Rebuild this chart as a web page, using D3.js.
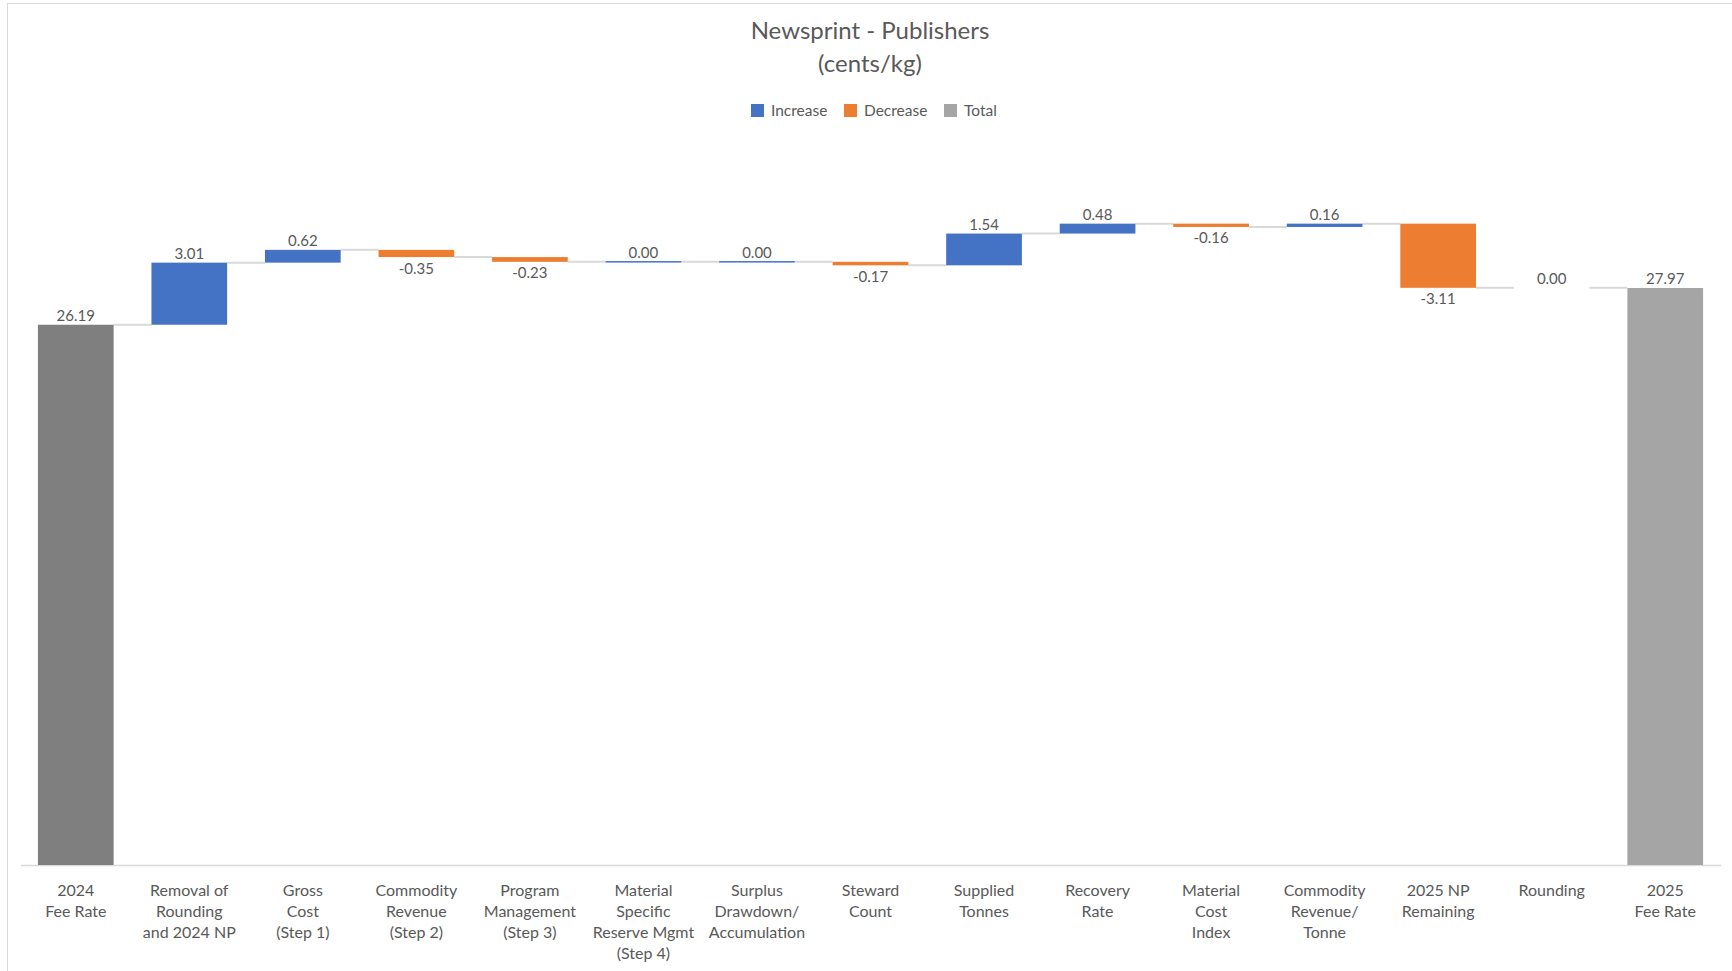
<!DOCTYPE html>
<html>
<head>
<meta charset="utf-8">
<script src="https://cdn.jsdelivr.net/npm/d3@7"></script>
<style>
  body { margin: 0; background: #fff; }
  text { font-family: Lato, "Open Sans", sans-serif; fill: #595959; }
</style>
</head>
<body>
<div id="chart"></div>
<script>
// categories, with line breaks as shown under the axis
var categories = [
    "2024\nFee Rate",
    "Removal of\nRounding\nand 2024 NP",
    "Gross\nCost\n(Step 1)",
    "Commodity\nRevenue\n(Step 2)",
    "Program\nManagement\n(Step 3)",
    "Material\nSpecific\nReserve Mgmt\n(Step 4)",
    "Surplus\nDrawdown/\nAccumulation",
    "Steward\nCount",
    "Supplied\nTonnes",
    "Recovery\nRate",
    "Material\nCost\nIndex",
    "Commodity\nRevenue/\nTonne",
    "2025 NP\nRemaining",
    "Rounding",
    "2025\nFee Rate"
];
var values = [26.19, 3.01, 0.62, -0.35, -0.23, 0.00, 0.00, -0.17, 1.54, 0.48, -0.16, 0.16, -3.11, 0.00, 27.97];
var types  = ["total", "inc", "inc", "dec", "dec", "inc", "inc", "dec", "inc", "inc", "dec", "inc", "dec", "blank", "total"];
var legendItems = ["Increase", "Decrease", "Total"];

var width = 1732, height = 971;

var svg = d3.select("#chart").append("svg")
    .attr("width", width)
    .attr("height", height);

// chart border
svg.append("rect")
    .attr("x", 7.5).attr("y", 3.5)
    .attr("width", width).attr("height", height)
    .attr("fill", "none")
    .attr("stroke", "#d9d9d9");

var x = d3.scaleBand()
    .domain(categories)
    .range([19, 1722]);

var y = d3.scaleLinear()
    .domain([0, 35])
    .range([865, 143]);

var barW = x.bandwidth() / 1.5;
var fmt = d3.formatLocale({decimal: ".", thousands: ",", grouping: [3], currency: ["$", ""], minus: "-"}).format(".2f");

// running levels for the waterfall
var run = 0;
var bars = values.map(function(v, i) {
    var t = types[i], lo, hi;
    if (t === "total") {
        lo = 0; hi = v; run = v;
    } else {
        lo = run; hi = run + v; run = hi;
    }
    return {cat: categories[i], value: v, type: t, y0: Math.min(lo, hi), y1: Math.max(lo, hi), end: run, i: i};
});

var fill = function(d) {
    if (d.type === "inc") return "#4472C4";
    if (d.type === "dec") return "#ED7D31";
    if (d.type === "total") return d.i === 0 ? "#7F7F7F" : "#A5A5A5";
    return "none";
};

// connectors
svg.append("g")
    .selectAll("line")
    .data(bars.slice(0, -1))
    .enter().append("line")
    .attr("x1", (d) => x(d.cat) + (x.bandwidth() + barW) / 2)
    .attr("x2", (d) => x(categories[d.i + 1]) + (x.bandwidth() - barW) / 2)
    .attr("y1", (d) => y(d.end))
    .attr("y2", (d) => y(d.end))
    .attr("stroke", "#d9d9d9")
    .attr("stroke-width", 2);

// axis line
svg.append("line")
    .attr("x1", 21).attr("x2", 1721)
    .attr("y1", 865.5).attr("y2", 865.5)
    .attr("stroke", "#d9d9d9")
    .attr("stroke-width", 1.5);

// bars
svg.append("g")
    .selectAll("rect")
    .data(bars)
    .enter().append("rect")
    .attr("x", (d) => x(d.cat) + (x.bandwidth() - barW) / 2)
    .attr("width", barW)
    .attr("y", function(d) {
        var h = y(d.y0) - y(d.y1);
        return h < 1.5 && d.type !== "blank" ? y(d.y1) - 0.75 : y(d.y1);
    })
    .attr("height", function(d) {
        var h = y(d.y0) - y(d.y1);
        return h < 1.5 && d.type !== "blank" ? 1.5 : h;
    })
    .attr("fill", fill);

// data labels
svg.append("g")
    .selectAll("text")
    .data(bars)
    .enter().append("text")
    .attr("x", (d) => x(d.cat) + x.bandwidth() / 2)
    .attr("y", (d) => d.value < 0 ? y(d.y0) + 16.5 : y(d.y1) - 4)
    .attr("text-anchor", "middle")
    .style("font-size", "15px")
    .text((d) => fmt(d.value));

// category labels
var catG = svg.append("g")
    .selectAll("text")
    .data(categories)
    .enter().append("text")
    .attr("text-anchor", "middle")
    .style("font-size", "16px");

catG.selectAll("tspan")
    .data((d) => d.split("\n").map((s) => ({s: s, c: d})))
    .enter().append("tspan")
    .attr("x", (d) => x(d.c) + x.bandwidth() / 2)
    .attr("y", (d, j) => 896 + j * 21)
    .text((d) => d.s);

// title
svg.append("text")
    .attr("x", 870).attr("y", 39)
    .attr("text-anchor", "middle")
    .style("font-size", "24px")
    .text("Newsprint - Publishers");
svg.append("text")
    .attr("x", 870).attr("y", 72)
    .attr("text-anchor", "middle")
    .style("font-size", "24px")
    .text("(cents/kg)");

// legend
var legendColors = ["#4472C4", "#ED7D31", "#A5A5A5"];
var legendX = [751, 844, 944];
var lg = svg.append("g")
    .selectAll("g")
    .data(legendItems)
    .enter().append("g")
    .attr("transform", (d, i) => "translate(" + legendX[i] + ",104)");
lg.append("rect")
    .attr("width", 13).attr("height", 13)
    .attr("fill", (d, i) => legendColors[i]);
lg.append("text")
    .attr("x", 20).attr("y", 11.5)
    .style("font-size", "15.5px")
    .text((d) => d);
</script>
</body>
</html>
